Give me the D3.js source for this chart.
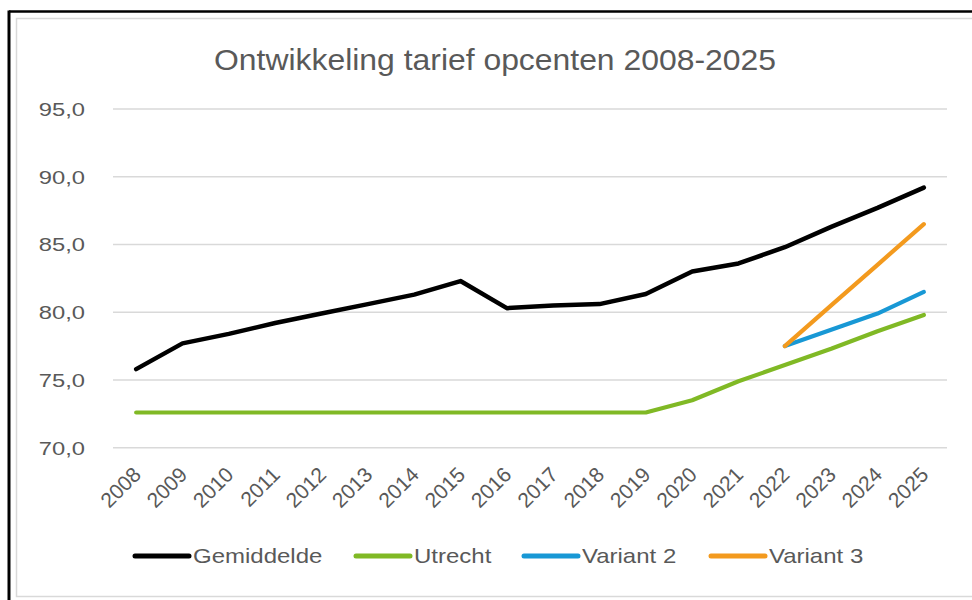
<!DOCTYPE html>
<html>
<head>
<meta charset="utf-8">
<script src="https://cdn.jsdelivr.net/npm/d3@7"></script>
<style>
  html, body { margin: 0; padding: 0; background: #fff; }
  svg { display: block; }
  text { font-family: "Liberation Sans", Arial, sans-serif; fill: #595959; }
</style>
</head>
<body>
<svg id="chart" width="972" height="600"></svg>
<script>
// ---------- data ----------
const years = ["2008","2009","2010","2011","2012","2013","2014","2015","2016","2017","2018","2019","2020","2021","2022","2023","2024","2025"];
const gemiddelde = [75.8, 77.7, 78.4, 79.2, 79.9, 80.6, 81.3, 82.3, 80.3, 80.5, 80.6, 81.35, 83.0, 83.6, 84.8, 86.3, 87.7, 89.2];
const utrecht    = [72.6, 72.6, 72.6, 72.6, 72.6, 72.6, 72.6, 72.6, 72.6, 72.6, 72.6, 72.6, 73.5, 74.9, 76.1, 77.3, 78.6, 79.8];
const variant2   = [null, null, null, null, null, null, null, null, null, null, null, null, null, null, 77.5, 78.7, 79.9, 81.5];
const variant3   = [null, null, null, null, null, null, null, null, null, null, null, null, null, null, 77.5, 80.5, 83.5, 86.5];
const yTicks = [70, 75, 80, 85, 90, 95];
const title = "Ontwikkeling tarief opcenten 2008-2025";
const seriesNames = ["Gemiddelde", "Utrecht", "Variant 2", "Variant 3"];
const seriesColors = ["#000000", "#80b925", "#1898d5", "#f39a1e"];

// ---------- layout ----------
const SX = 1.25; // horizontal stretch of the reference text
const svg = d3.select("#chart");

// outer frames
svg.append("rect").attr("x", 16.5).attr("y", 18.5).attr("width", 970).attr("height", 578)
  .attr("fill", "#fff").attr("stroke", "#d9d9d9").attr("stroke-width", 1.5);
svg.append("line").attr("x1", 9).attr("x2", 972).attr("y1", 11.5).attr("y2", 11.5)
  .attr("stroke", "#000").attr("stroke-width", 2.5);
svg.append("line").attr("x1", 9).attr("x2", 9).attr("y1", 10.5).attr("y2", 600)
  .attr("stroke", "#000").attr("stroke-width", 3);

const x = d3.scaleBand().domain(years).range([113, 947]);
const y = d3.scaleLinear().domain([70, 95]).range([447.7, 109]);
const cx = d => x(d) + x.bandwidth() / 2;

// title
svg.append("text")
  .attr("transform", `translate(495,70) scale(1.1,1)`)
  .attr("text-anchor", "middle")
  .style("font-size", "29px")
  .text(title);

// gridlines
svg.append("g").selectAll("line").data(yTicks).join("line")
  .attr("x1", 113).attr("x2", 947)
  .attr("y1", d => y(d)).attr("y2", d => y(d))
  .attr("stroke", "#d9d9d9").attr("stroke-width", 1.5);

// y labels
const fmt = d => d3.format(".1f")(d).replace(".", ",");
svg.append("g").selectAll("text").data(yTicks).join("text")
  .attr("transform", d => `translate(85,${y(d) + 7}) scale(${SX},1)`)
  .attr("text-anchor", "end")
  .style("font-size", "19px")
  .text(fmt);

// x labels
svg.append("g").selectAll("text").data(years).join("text")
  .attr("transform", d => `translate(${cx(d) + 6},${476}) rotate(-45)`)
  .attr("text-anchor", "end")
  .style("font-size", "21px")
  .text(d => d);

// lines
const allSeries = [gemiddelde, utrecht, variant2, variant3];
const line = d3.line()
  .defined(d => d.v != null)
  .x(d => cx(d.year))
  .y(d => y(d.v));
const drawOrder = [1, 0, 2, 3];
drawOrder.forEach(i => {
  const pts = years.map((yr, j) => ({ year: yr, v: allSeries[i][j] }));
  svg.append("path")
    .attr("d", line(pts))
    .attr("fill", "none")
    .attr("stroke", seriesColors[i])
    .attr("stroke-width", i === 0 ? 4.5 : 4.2)
    .attr("stroke-linejoin", "round")
    .attr("stroke-linecap", "round");
});

// legend
const legendX = [133, 354, 522, 709];
const legY = 556;
const leg = svg.append("g");
seriesNames.forEach((name, i) => {
  leg.append("line")
    .attr("x1", legendX[i] + 2).attr("x2", legendX[i] + 56)
    .attr("y1", legY).attr("y2", legY)
    .attr("stroke", seriesColors[i]).attr("stroke-width", 5)
    .attr("stroke-linecap", "round");
  leg.append("text")
    .attr("transform", `translate(${legendX[i] + 60},${legY + 7}) scale(1.2,1)`)
    .style("font-size", "20px")
    .text(name);
});
</script>
</body>
</html>
